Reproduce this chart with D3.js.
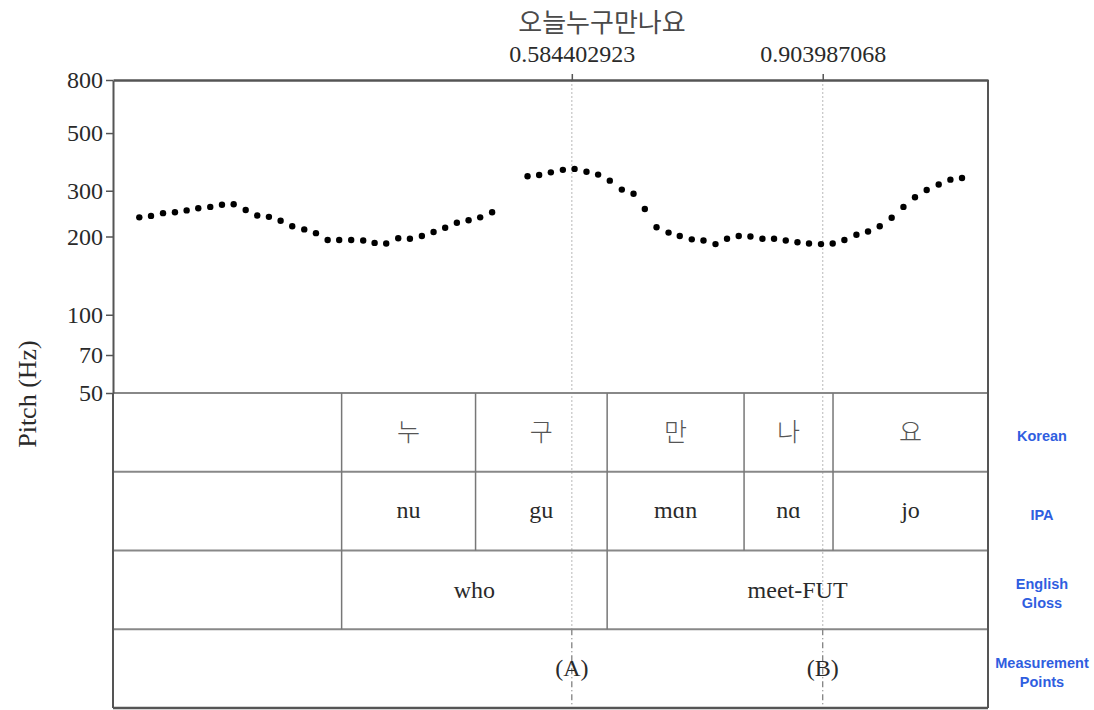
<!DOCTYPE html>
<html>
<head>
<meta charset="utf-8">
<script src="https://cdn.jsdelivr.net/npm/d3@7/dist/d3.min.js"></script>
<style>
  html, body { margin: 0; padding: 0; background: #fff; }
  svg { display: block; }
</style>
</head>
<body>
<svg id="chart" width="1094" height="710"></svg>
<script>
// ---------- DATA ----------
const title = "오늘누구만나요";
const yTickValues = [50, 70, 100, 200, 300, 500, 800];
const measureTimes = [0.584402923, 0.903987068];
const measureLabels = ["(A)", "(B)"];

const pitchTimes = [
  0.0335, 0.0484, 0.0637, 0.0789, 0.0938, 0.1086, 0.1239, 0.1388, 0.1537, 0.1690,
  0.1837, 0.1986, 0.2135, 0.2283, 0.2436, 0.2585, 0.2734, 0.2881, 0.3034, 0.3187,
  0.3332, 0.3480, 0.3633, 0.3782, 0.3934, 0.4083, 0.4231, 0.4380, 0.4529, 0.4677,
  0.4829,
  0.5280, 0.5428, 0.5577, 0.5730, 0.5879, 0.6031, 0.6179, 0.6328, 0.6481, 0.6630,
  0.6774, 0.6923, 0.7076, 0.7219, 0.7372, 0.7521, 0.7674, 0.7821, 0.7970, 0.8119,
  0.8272, 0.8420, 0.8569, 0.8718, 0.8865, 0.9018, 0.9167, 0.9316, 0.9469, 0.9617,
  0.9766, 0.9918, 1.0068, 1.0215, 1.0364, 1.0517, 1.0666, 1.0814
];
const pitchHz = [
  237, 240, 246, 248, 252, 257, 260, 265, 266, 253,
  241, 238, 230, 219, 213, 206, 194, 194, 194, 193,
  189, 188, 197, 196, 201, 208, 216, 226, 231, 237,
  248,
  341, 345, 353, 361, 364, 355, 346, 328, 303, 292,
  255, 217, 207, 201, 195, 193, 187, 196, 201, 200,
  196, 196, 193, 190, 188, 187, 188, 194, 203, 209,
  219, 236, 260, 283, 302, 317, 331, 336
];

const syllableBounds = [0.2912, 0.4618, 0.6294, 0.8038, 0.9171, 1.1145];
const koreanSyllables = ["누", "구", "만", "나", "요"];
const ipaSyllables = ["nu", "gu", "mɑn", "nɑ", "jo"];
const glossBounds = [0.2912, 0.6294, 1.1145];
const glossWords = ["who", "meet-FUT"];
const tierNames = [["Korean"], ["IPA"], ["English", "Gloss"], ["Measurement", "Points"]];

(function () {
// ---------- LAYOUT ----------
const svg = d3.select("#chart");
const pLeft = 113, pRight = 988, pTop = 80, pitchBottom = 393;
const tierHeight = 78.75;
const pBottom = pitchBottom + tierHeight * 4;

const x = d3.scaleLinear().domain([0, 1.1145]).range([pLeft, pRight]);
const y = d3.scaleLog().domain([50, 800]).range([pitchBottom, pTop]);
const tierY = d3.scaleLinear().domain([0, 4]).range([pitchBottom, pBottom]);

const serif = "'Liberation Serif', 'Times New Roman', 'DejaVu Serif', serif";
const kfont = "'Noto Sans CJK KR', 'Noto Sans', sans-serif";

// title
svg.append("text")
  .attr("x", 602).attr("y", 32)
  .attr("text-anchor", "middle")
  .attr("font-family", kfont).attr("font-size", 26).attr("font-weight", 400)
  .attr("fill", "#4a4a4a")
  .text(title);

// vertical measurement lines (light dotted through pitch + tiers 1-3)
svg.selectAll("line.mline").data(measureTimes).join("line")
  .attr("class", "mline")
  .attr("x1", d => x(d)).attr("x2", d => x(d))
  .attr("y1", pTop).attr("y2", tierY(3))
  .attr("stroke", "#c4c4c4").attr("stroke-width", 1.2)
  .attr("stroke-dasharray", "2,2");
svg.selectAll("line.mline2").data(measureTimes).join("line")
  .attr("class", "mline2")
  .attr("x1", d => x(d)).attr("x2", d => x(d))
  .attr("y1", tierY(3)).attr("y2", pBottom)
  .attr("stroke", "#777").attr("stroke-width", 1.2)
  .attr("stroke-dasharray", "6,3,1,3");

// tier horizontal lines
svg.selectAll("line.tierline").data([1, 2, 3]).join("line")
  .attr("class", "tierline")
  .attr("x1", pLeft).attr("x2", pRight)
  .attr("y1", d => tierY(d)).attr("y2", d => tierY(d))
  .attr("stroke", "#888").attr("stroke-width", 2);
// 50 Hz baseline
svg.append("line")
  .attr("x1", pLeft).attr("x2", pRight)
  .attr("y1", pitchBottom).attr("y2", pitchBottom)
  .attr("stroke", "#888").attr("stroke-width", 2);

// tier vertical boundaries
function boundaries(bounds, row) {
  svg.append("g").selectAll("line").data(bounds.slice(0, -1)).join("line")
    .attr("x1", d => x(d)).attr("x2", d => x(d))
    .attr("y1", tierY(row)).attr("y2", tierY(row + 1))
    .attr("stroke", "#777").attr("stroke-width", 1.5);
}
boundaries(syllableBounds, 0);
boundaries(syllableBounds, 1);
boundaries(glossBounds, 2);

// tier texts
function tierText(bounds, labels, row, font, size, color, weight, dy) {
  svg.append("g").selectAll("text").data(labels).join("text")
    .attr("x", (d, i) => (x(bounds[i]) + x(bounds[i + 1])) / 2)
    .attr("y", (tierY(row) + tierY(row + 1)) / 2)
    .attr("dy", dy)
    .attr("text-anchor", "middle")
    .attr("font-family", font).attr("font-size", size)
    .attr("font-weight", weight)
    .attr("fill", color)
    .text(d => d);
}
tierText(syllableBounds, koreanSyllables, 0, kfont, 25, "#555", 300, "0.36em");
tierText(syllableBounds, ipaSyllables, 1, serif, 24, "#2a2a2a", 400, "0.3em");
tierText(glossBounds, glossWords, 2, serif, 24, "#2a2a2a", 400, "0.33em");
svg.append("g").selectAll("text").data(measureLabels).join("text")
  .attr("x", (d, i) => x(measureTimes[i]))
  .attr("y", (tierY(3) + tierY(4)) / 2)
  .attr("dy", "0.3em")
  .attr("text-anchor", "middle")
  .attr("font-family", serif).attr("font-size", 24)
  .attr("fill", "#2a2a2a")
  .text(d => d);

// right-side tier names
tierNames.forEach((lines, r) => {
  const cy = (tierY(r) + tierY(r + 1)) / 2;
  const t = svg.append("text")
    .attr("x", 1042)
    .attr("text-anchor", "middle")
    .attr("font-family", "'Liberation Sans', Arial, sans-serif")
    .attr("font-size", 14.5).attr("font-weight", 700)
    .attr("fill", "#2f5ee0");
  lines.forEach((ln, j) => {
    t.append("tspan")
      .attr("x", 1042)
      .attr("y", cy + (j - (lines.length - 1) / 2) * 19 + 9)
      .text(ln);
  });
});

// frame: right and bottom
svg.append("line").attr("x1", pRight).attr("x2", pRight).attr("y1", pTop).attr("y2", pBottom)
  .attr("stroke", "#555").attr("stroke-width", 2);
svg.append("line").attr("x1", pLeft).attr("x2", pRight).attr("y1", pBottom).attr("y2", pBottom)
  .attr("stroke", "#555").attr("stroke-width", 2.5);
svg.append("line").attr("x1", pLeft).attr("x2", pLeft).attr("y1", pitchBottom).attr("y2", pBottom)
  .attr("stroke", "#555").attr("stroke-width", 2);

// left axis
const yAxis = d3.axisLeft(y).tickValues(yTickValues).tickFormat(d3.format("d"))
  .tickSize(7).tickSizeOuter(0).tickPadding(3);
const gy = svg.append("g").attr("transform", `translate(${pLeft},0)`).call(yAxis);
gy.select(".domain").attr("stroke", "#555").attr("stroke-width", 2);
gy.selectAll(".tick line").attr("stroke", "#555").attr("stroke-width", 1.5);
gy.selectAll(".tick text").attr("font-family", serif).attr("font-size", 24).attr("fill", "#2a2a2a");

// top axis
const xAxis = d3.axisTop(x).tickValues(measureTimes).tickFormat(d => String(d))
  .tickSize(6).tickSizeOuter(0).tickPadding(12);
const gx = svg.append("g").attr("transform", `translate(0,${pTop})`).call(xAxis);
gx.select(".domain").attr("stroke", "#555").attr("stroke-width", 2.5);
gx.selectAll(".tick line").attr("stroke", "#555").attr("stroke-width", 1.5);
gx.selectAll(".tick text").attr("font-family", serif).attr("font-size", 24).attr("fill", "#2a2a2a");

// y-axis title
svg.append("text")
  .attr("transform", `translate(36,394) rotate(-90)`)
  .attr("text-anchor", "middle")
  .attr("font-family", serif).attr("font-size", 26)
  .attr("fill", "#2a2a2a")
  .text("Pitch (Hz)");

// pitch points
svg.append("g").selectAll("circle").data(pitchTimes).join("circle")
  .attr("cx", d => x(d))
  .attr("cy", (d, i) => y(pitchHz[i]))
  .attr("r", 3.2)
  .attr("fill", "#000");
})();
</script>
</body>
</html>
